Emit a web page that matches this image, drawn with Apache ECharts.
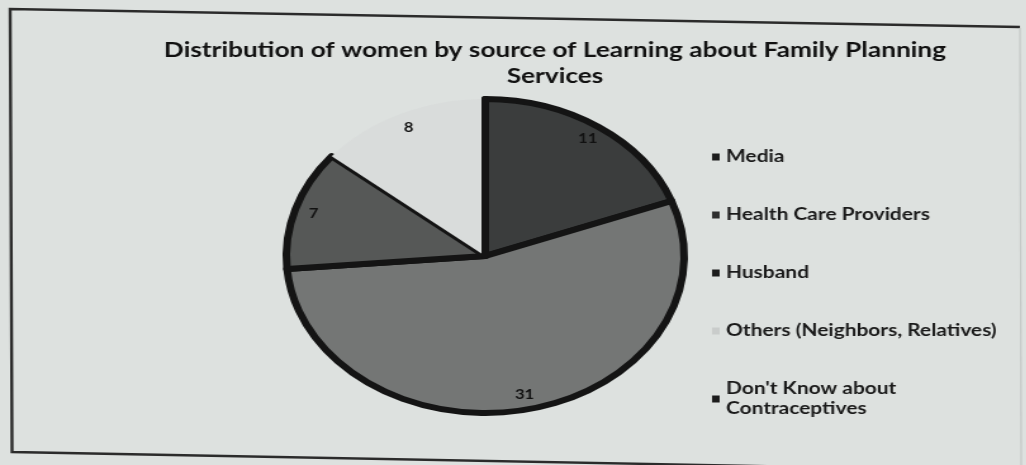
<!DOCTYPE html>
<html>
<head>
<meta charset="utf-8">
<script src="https://cdn.jsdelivr.net/npm/echarts@6/dist/echarts.min.js"></script>
<style>
  html, body { margin: 0; padding: 0; background: #dde1df; overflow: hidden; }
  #wrap { position: relative; width: 1026px; height: 465px; overflow: hidden; }
  /* the printed chart is seen slightly widened, so the whole drawing is stretched horizontally */
  #chart { position: absolute; left: 0; top: 0; width: 810px; height: 465px;
           transform: scaleX(1.267); transform-origin: 0 0; }
</style>
</head>
<body>
<div id="wrap"><div id="chart"></div></div>
<script>
// Women by source of learning about family planning services
const categories = [
  'Media',
  'Health Care Providers',
  'Husband',
  'Others (Neighbors, Relatives)',
  "Don't Know about Contraceptives"
];
const counts = [11, 31, 7, 8, 0];
const titleLines = ['Distribution of women by source of Learning about Family Planning', 'Services'];

const sliceColors = ['#3b3d3d', '#747675', '#565857', '#d9dcdb', '#1a1a1a'];
const legendColors = ['#1c1c1c', '#2e2e2e', '#1c1c1c', '#c9cccb', '#1c1c1c'];
const sliceBorder = [6, 6, 6, 0, 6];

const FONT = 'Lato, "Open Sans", sans-serif';

const pieData = categories.map((name, i) => ({
  name: name,
  value: counts[i],
  itemStyle: { color: sliceColors[i], borderColor: '#141414', borderWidth: sliceBorder[i] }
}));

const chart = echarts.init(document.getElementById('chart'), null, { renderer: 'canvas' });

chart.setOption({
  backgroundColor: 'transparent',
  animation: false,
  title: {
    text: titleLines.join('\n'),
    left: 433,
    top: 32,
    textAlign: 'center',
    textStyle: { fontFamily: FONT, fontWeight: 'bold', fontSize: 20.7, lineHeight: 26, color: '#111' }
  },
  legend: {
    orient: 'vertical',
    left: 562,
    top: 147,
    padding: 0,
    itemWidth: 6,
    itemHeight: 7,
    itemGap: 38,
    icon: 'rect',
    itemStyle: { borderWidth: 0 },
    data: categories.map((name, i) => ({ name: name, itemStyle: { color: legendColors[i], borderWidth: 0 } })),
    formatter: name => name === categories[4] ? "Don't Know about\nContraceptives" : name,
    textStyle: { fontFamily: FONT, fontWeight: 'bold', fontSize: 16.5, lineHeight: 20, color: '#1a1a1a' }
  },
  graphic: [
    { type: 'polyline', silent: true,
      shape: { points: [[805, 27], [8, 9], [9.5, 452], [806.6, 471]] },
      style: { stroke: '#2b2b2b', lineWidth: 2.4, fill: null } },
    { type: 'line', silent: true,
      shape: { x1: 805, y1: 28, x2: 806, y2: 465 },
      style: { stroke: '#c4c8c6', lineWidth: 1.2 } }
  ],
  series: [
    {
      type: 'pie',
      center: [383, 256],
      radius: [0, 157],
      startAngle: 90,
      clockwise: true,
      label: { show: false },
      labelLine: { show: false },
      emphasis: { disabled: true },
      data: pieData
    },
    {
      // transparent ring carrying the value labels close to the rim
      type: 'pie',
      center: [383, 256],
      radius: [121, 157],
      startAngle: 90,
      clockwise: true,
      silent: true,
      itemStyle: { color: 'rgba(0,0,0,0)', borderWidth: 0 },
      label: {
        show: true,
        position: 'inside',
        formatter: p => (p.value ? String(p.value) : ''),
        fontFamily: FONT, fontWeight: 'bold', fontSize: 13, color: '#111'
      },
      labelLine: { show: false },
      emphasis: { disabled: true },
      data: categories.map((name, i) => ({ name: name, value: counts[i] }))
    }
  ]
});
</script>
</body>
</html>
